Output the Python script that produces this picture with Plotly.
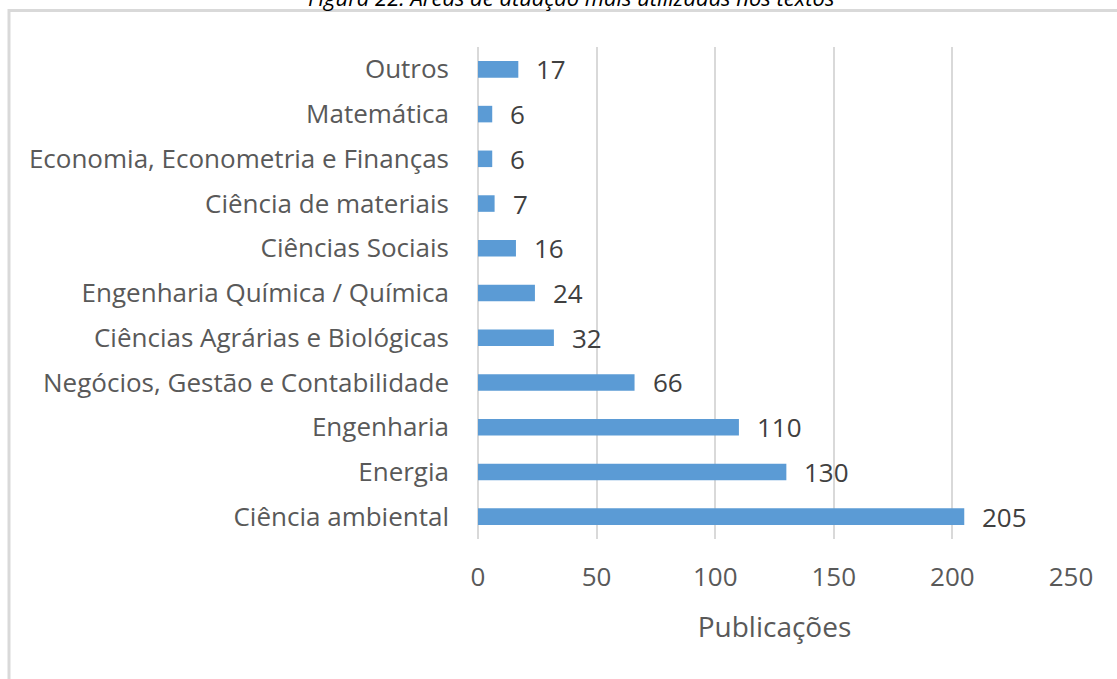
import plotly.graph_objects as go

categories = ["Ciência ambiental", "Energia", "Engenharia", "Negócios, Gestão e Contabilidade",
              "Ciências Agrárias e Biológicas", "Engenharia Química / Química", "Ciências Sociais",
              "Ciência de materiais", "Economia, Econometria e Finanças", "Matemática", "Outros"]
values = [205, 130, 110, 66, 32, 24, 16, 7, 6, 6, 17]
tick_vals = [0, 50, 100, 150, 200, 250]
title_text = "Figura 22: Áreas de atuação mais utilizadas nos textos"
x_title = "Publicações"

W, H = 1117, 679
L, R, T, B = 478, 46, 47, 140
pw, ph = W - L - R, H - T - B

FONT = "Open Sans"
GRAY = "#595959"
GRID = "#d9d9d9"


def px_y(y_top):
    """convert pixel distance from top of figure to paper y"""
    return (H - B - y_top) / ph


def px_x(x_left):
    return (x_left - L) / pw


fig = go.Figure()
fig.add_trace(go.Bar(
    x=values, y=categories, orientation="h",
    marker=dict(color="#5b9bd5", line=dict(width=0)),
    width=0.37, hoverinfo="x+y",
))

for c, v in zip(categories, values):
    fig.add_annotation(x=v, y=c, xref="x", yref="y", text=str(v), showarrow=False,
                       xanchor="left", yanchor="middle", xshift=16, yshift=0,
                       font=dict(family=FONT, size=26, color="#404040"))

fig.add_annotation(x=px_x(571), y=px_y(14), xref="paper", yref="paper",
                   text=f"<i>{title_text}</i>", showarrow=False, xanchor="center",
                   yanchor="bottom", font=dict(family=FONT, size=22, color="#000000"))

fig.add_shape(type="rect", xref="paper", yref="paper",
              x0=px_x(9), x1=px_x(1130),
              y0=px_y(700), y1=px_y(10.5),
              line=dict(color=GRID, width=3), fillcolor="rgba(0,0,0,0)", layer="below")

fig.update_layout(
    width=W, height=H,
    margin=dict(l=L, r=R, t=T, b=B),
    paper_bgcolor="white", plot_bgcolor="white",
    showlegend=False,
    font=dict(family=FONT, color=GRAY),
    xaxis=dict(range=[0, 250], tickvals=tick_vals, showgrid=True, gridcolor=GRID, gridwidth=2,
               zeroline=True, zerolinecolor=GRID, zerolinewidth=2, showline=False,
               ticks="", ticklabelstandoff=20, tickfont=dict(family=FONT, size=26, color=GRAY),
               title=dict(text=x_title, standoff=24, font=dict(family=FONT, size=28, color=GRAY)),
               fixedrange=True),
    yaxis=dict(categoryorder="array", categoryarray=categories, showgrid=False, zeroline=False,
               showline=False, ticks="", ticklabelstandoff=28,
               tickfont=dict(family=FONT, size=26, color=GRAY), fixedrange=True),
)

fig.write_html("out.html", config={"displayModeBar": False},
               post_script="document.body.style.margin='0';document.body.style.overflow='hidden';")
